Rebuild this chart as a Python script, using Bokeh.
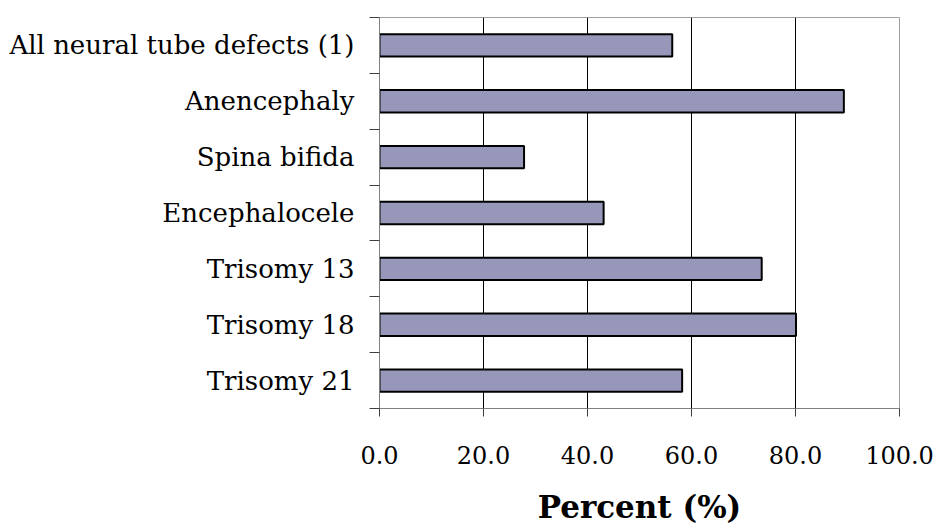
from bokeh.plotting import figure
from bokeh.models import Range1d, FixedTicker, NumeralTickFormatter
from bokeh.embed import file_html
from bokeh.resources import INLINE

categories = ["All neural tube defects (1)", "Anencephaly", "Spina bifida",
              "Encephalocele", "Trisomy 13", "Trisomy 18", "Trisomy 21"]
percent = [56.3, 89.3, 27.8, 43.1, 73.5, 80.1, 58.2]
x_ticks = [0, 20, 40, 60, 80, 100]
grid_ticks = [20, 40, 60, 80]
x_title = "Percent (%)"

n = len(categories)
# top category first: positions from the top down
ypos = [n - i - 0.5 for i in range(n)]

p = figure(width=937, height=527, output_backend="svg", toolbar_location=None,
           x_range=Range1d(0, 100), y_range=Range1d(0, n),
           min_border_left=379, min_border_right=38, min_border_top=17,
           min_border_bottom=119)

p.hbar(y=ypos, right=percent, left=0, height=0.4,
       fill_color="#9797BA", line_color="black", line_width=2)

p.outline_line_color = "#a0a0a0"
p.outline_line_width = 1
p.background_fill_color = "white"
p.border_fill_color = "white"

# x axis
xa = p.xaxis[0]
xa.ticker = FixedTicker(ticks=x_ticks)
xa.formatter = NumeralTickFormatter(format="0.0")
xa.major_tick_out = 8
xa.major_tick_in = 0
xa.minor_tick_out = 0
xa.minor_tick_in = 0
xa.axis_line_color = "#808080"
xa.major_tick_line_color = "#404040"
xa.major_label_text_font = "DejaVu Serif"
xa.major_label_text_font_size = "24px"
xa.major_label_text_color = "black"
xa.major_label_standoff = 29
xa.axis_label = x_title
xa.axis_label_text_font = "DejaVu Serif"
xa.axis_label_text_font_size = "31px"
xa.axis_label_text_font_style = "bold"
xa.axis_label_text_color = "black"
xa.axis_label_standoff = 22

# y axis: labels at centres, ticks at category boundaries
ya = p.yaxis[0]
ya.ticker = FixedTicker(ticks=ypos, minor_ticks=list(range(n + 1)))
ya.major_label_overrides = {y: c for y, c in zip(ypos, categories)}
ya.major_tick_out = 0
ya.major_tick_in = 0
ya.minor_tick_out = 10
ya.minor_tick_in = 0
ya.minor_tick_line_color = "#404040"
ya.axis_line_color = "#808080"
ya.major_label_text_font = "DejaVu Serif"
ya.major_label_text_font_size = "26px"
ya.major_label_text_color = "black"
ya.major_label_standoff = 15

p.xgrid.ticker = FixedTicker(ticks=grid_ticks)
p.xgrid.grid_line_color = "black"
p.xgrid.grid_line_width = 1
p.ygrid.grid_line_color = None

open("out.html", "w").write(file_html(p, INLINE))
